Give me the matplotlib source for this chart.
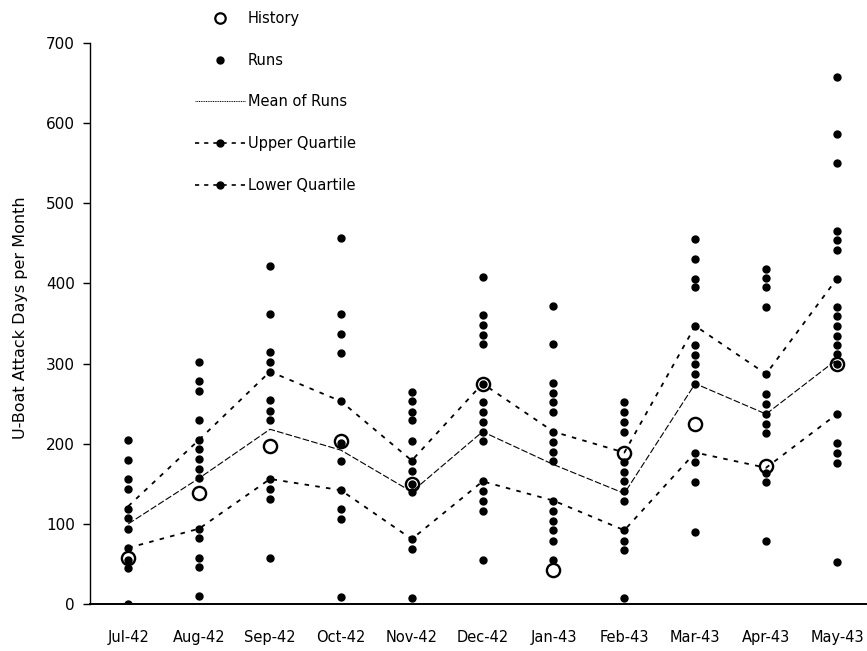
import matplotlib
matplotlib.use("Agg")
import matplotlib.pyplot as plt
from matplotlib.lines import Line2D

plt.rcParams['font.family'] = ['DejaVu Sans']

months = ["Jul-42", "Aug-42", "Sep-42", "Oct-42", "Nov-42", "Dec-42",
          "Jan-43", "Feb-43", "Mar-43", "Apr-43", "May-43"]

runs = [
    [205, 180, 156, 143, 119, 107, 94, 70, 55, 45, 0],
    [302, 278, 266, 230, 205, 193, 181, 169, 157, 94, 82, 58, 46, 10],
    [422, 362, 314, 302, 290, 254, 241, 230, 156, 143, 131, 58],
    [457, 362, 337, 313, 253, 201, 179, 142, 118, 106, 9],
    [265, 253, 240, 229, 204, 179, 166, 150, 140, 81, 69, 8],
    [408, 360, 348, 336, 324, 275, 252, 240, 227, 215, 203, 153, 141, 129, 116, 55],
    [372, 324, 276, 263, 252, 239, 215, 202, 190, 178, 129, 116, 104, 92, 79, 55],
    [252, 239, 227, 215, 177, 165, 153, 141, 128, 92, 79, 67, 7],
    [455, 430, 406, 395, 347, 323, 311, 299, 287, 275, 189, 177, 152, 90],
    [418, 407, 395, 371, 287, 262, 250, 237, 225, 213, 164, 152, 78],
    [658, 586, 550, 466, 454, 442, 406, 370, 359, 347, 335, 323, 312, 299,
     237, 201, 188, 176, 53],
]

history = [58, 138, 197, 203, 150, 275, 42, 189, 224, 172, 299]
mean_runs = [100, 157, 218, 192, 140, 215, 174, 138, 275, 237, 305]
upper_q = [122, 205, 290, 253, 179, 275, 215, 189, 347, 287, 406]
lower_q = [70, 94, 156, 142, 81, 153, 129, 92, 189, 170, 237]

fig = plt.figure(figsize=(8.67, 6.51), dpi=100)
ax = fig.add_axes([90/867, 1-604/651, (866-90)/867, (604-43)/651])

x = list(range(len(months)))

for i, vals in enumerate(runs):
    ax.plot([i]*len(vals), vals, linestyle='none', marker='o', color='black',
            markersize=5, zorder=3)

ax.plot(x, mean_runs, color='black', linewidth=0.8, linestyle=(0, (6, 2)), zorder=2)
ax.plot(x, upper_q, color='black', linewidth=1.3, linestyle=(0, (2.5, 3.5)), zorder=2)
ax.plot(x, lower_q, color='black', linewidth=1.3, linestyle=(0, (2.5, 3.5)), zorder=2)
ax.plot(x, history, linestyle='none', marker='o', markersize=9.5,
        markerfacecolor='none', markeredgecolor='black', markeredgewidth=1.7, zorder=4)

ax.set_xlim(-0.54, 10.41)
ax.set_ylim(0, 700)
ax.set_yticks(range(0, 701, 100))
ax.set_xticks(x)
ax.set_xticklabels(months, fontsize=10.5)
ax.tick_params(axis='x', length=0, pad=19)
ax.tick_params(axis='y', length=5, width=1, labelsize=11, pad=6)
for s in ['top', 'right']:
    ax.spines[s].set_visible(False)
ax.spines['left'].set_linewidth(1.0)
ax.spines['bottom'].set_linewidth(1.4)
ax.set_ylabel("U-Boat Attack Days per Month", fontsize=11.5)
ax.yaxis.set_label_coords(-62/776, (604-318)/561)

handles = [
    Line2D([], [], linestyle='none', marker='o', markersize=7.5, markerfacecolor='none',
           markeredgecolor='black', markeredgewidth=1.6),
    Line2D([], [], linestyle='none', marker='o', markersize=5, color='black'),
    Line2D([], [], color='black', linewidth=0.7, linestyle=(0, (1, 0.8))),
    Line2D([], [], color='black', linewidth=1.2, linestyle=(0, (2.5, 3)), marker='o',
           markersize=5),
    Line2D([], [], color='black', linewidth=1.2, linestyle=(0, (2.5, 3)), marker='o',
           markersize=5),
]
labels = ["History", "Runs", "Mean of Runs", "Upper Quartile", "Lower Quartile"]
leg = fig.legend(handles, labels, loc='upper left', bbox_to_anchor=(195/867, 1-11/651),
                 frameon=False, fontsize=10.5, handlelength=3.4, handletextpad=0.2,
                 labelspacing=1.83, borderpad=0, borderaxespad=0, numpoints=1)

fig.savefig("out.png", dpi=100)
